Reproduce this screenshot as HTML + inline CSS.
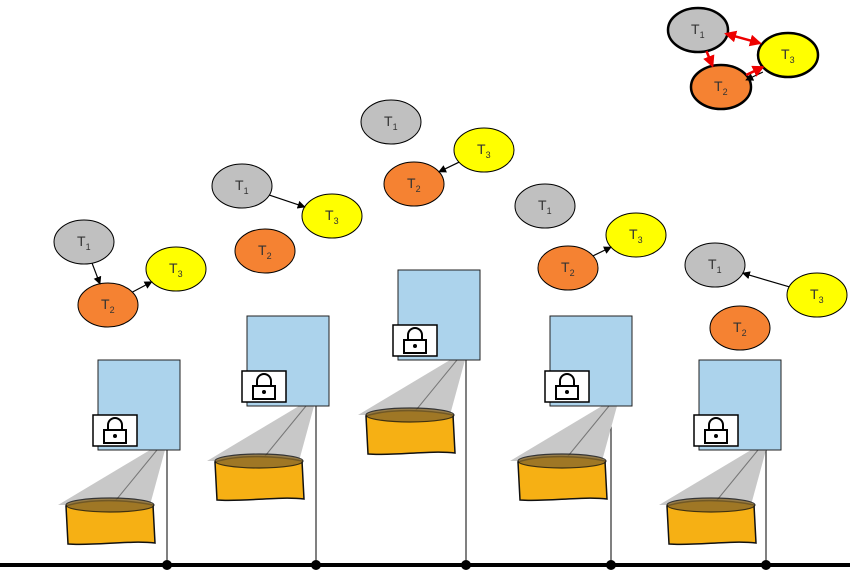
<!DOCTYPE html>
<html><head><meta charset="utf-8">
<style>
html,body{margin:0;padding:0;background:#fff;}
svg{display:block;font-family:"Liberation Sans",sans-serif;}
</style></head>
<body>
<svg width="850" height="574" viewBox="0 0 850 574">
<defs>
<marker id="ab" markerWidth="8" markerHeight="8" refX="7" refY="4" orient="auto" markerUnits="userSpaceOnUse"><path d="M0,0 L8,4 L0,8 Z" fill="#000"/></marker>
<marker id="ar" markerWidth="12" markerHeight="12" refX="10" refY="6" orient="auto" markerUnits="userSpaceOnUse"><path d="M0,0 L12,6 L0,12 Z" fill="#e00"/></marker>
<marker id="ars" markerWidth="12" markerHeight="12" refX="2" refY="6" orient="auto" markerUnits="userSpaceOnUse"><path d="M12,0 L0,6 L12,12 Z" fill="#e00"/></marker>
<g id="unit">
  <path d="M150,450 L165,450 L150,505 L58,505 Z" fill="#c8c8c8"/>
  <line x1="157" y1="450" x2="112" y2="505" stroke="#777" stroke-width="1"/>
  <path d="M66,506 C90,498 130,500 153,505 L155,543 C130,540 95,546 68,544 Z" fill="#f6b014" stroke="#111" stroke-width="1.5"/>
  <ellipse cx="110" cy="505" rx="44" ry="7" fill="#8a6a2a" opacity="0.8" stroke="#111" stroke-width="1.2"/>
  <rect x="98" y="360" width="82" height="90" fill="#acd3ec" stroke="#222" stroke-width="1"/>
  <rect x="93" y="415" width="44" height="31" fill="#fff" stroke="#000" stroke-width="1.5"/>
  <path d="M108,430 v-5 a7,7 0 0 1 14,0 v5" fill="none" stroke="#000" stroke-width="2"/>
  <rect x="104" y="430" width="22" height="13" fill="#fff" stroke="#000" stroke-width="2"/>
  <circle cx="115" cy="436" r="2" fill="#000"/>
</g>
</defs>

<line x1="0" y1="565" x2="850" y2="565" stroke="#000" stroke-width="4"/>

<g>
  <line x1="167" y1="450" x2="167" y2="565" stroke="#000"/>
  <use href="#unit" transform="translate(0,0)"/>
  <circle cx="167" cy="565" r="5" fill="#000"/>
</g>
<g>
  <line x1="316" y1="406" x2="316" y2="565" stroke="#000"/>
  <use href="#unit" transform="translate(149,-44)"/>
  <circle cx="316" cy="565" r="5" fill="#000"/>
</g>
<g>
  <line x1="466" y1="360" x2="466" y2="565" stroke="#000"/>
  <use href="#unit" transform="translate(300,-90)"/>
  <circle cx="466" cy="565" r="5" fill="#000"/>
</g>
<g>
  <line x1="611" y1="406" x2="611" y2="565" stroke="#000"/>
  <use href="#unit" transform="translate(452,-44)"/>
  <circle cx="611" cy="565" r="5" fill="#000"/>
</g>
<g>
  <line x1="766" y1="450" x2="766" y2="565" stroke="#000"/>
  <use href="#unit" transform="translate(601,0)"/>
  <circle cx="766" cy="565" r="5" fill="#000"/>
</g>

<g id="nodes"></g>

<script>
const ns='http://www.w3.org/2000/svg';
const fills={1:'#c0c0c0',2:'#f58232',3:'#ffff00'};
const groups=[
 {n:{1:[84,242],2:[108,305],3:[176,269]},e:[[1,2],[2,3]],sw:1},
 {n:{1:[242,186],2:[265,251],3:[332,216]},e:[[1,3]],sw:1},
 {n:{1:[391,122],2:[414,184],3:[484,150]},e:[[3,2]],sw:1},
 {n:{1:[545,206],2:[568,268],3:[636,235]},e:[[2,3]],sw:1},
 {n:{1:[715,265],2:[740,328],3:[817,295]},e:[[3,1]],sw:1},
 {n:{1:[698,30],2:[721,87],3:[788,55]},e:[[3,2]],sw:2.5,red:[[1,2],[2,3]],both:[[3,1]]}
];
const root=document.getElementById('nodes');
const rx=30,ry=22;
function edge(a,b,col,mk,ms,w){
 const dx=b[0]-a[0],dy=b[1]-a[1],L=Math.hypot(dx,dy);
 const ux=dx/L,uy=dy/L;
 const ta=1/Math.sqrt((ux*ux)/(rx*rx)+(uy*uy)/(ry*ry));
 const l=document.createElementNS(ns,'line');
 
 
 l.setAttribute('x1',a[0]+ux*ta);l.setAttribute('y1',a[1]+uy*ta);
 l.setAttribute('x2',b[0]-ux*ta);l.setAttribute('y2',b[1]-uy*ta);
 l.setAttribute('stroke',col);l.setAttribute('stroke-width',w);
 l.setAttribute('marker-end','url(#'+mk+')');
 if(ms)l.setAttribute('marker-start','url(#'+ms+')');
 root.appendChild(l);
}
groups.forEach(g=>{
 [1,2,3].forEach(k=>{
  const [cx,cy]=g.n[k];
  const e=document.createElementNS(ns,'ellipse');
  
  
  e.setAttribute('cx',cx);e.setAttribute('cy',cy);e.setAttribute('rx',rx);e.setAttribute('ry',ry);
  e.setAttribute('fill',fills[k]);e.setAttribute('stroke','#000');e.setAttribute('stroke-width',g.sw);
  root.appendChild(e);
  const t=document.createElementNS(ns,'text');
  
  
  t.setAttribute('x',cx-7);t.setAttribute('y',cy+4);t.setAttribute('font-size','14');t.setAttribute('fill','#333');
  t.appendChild(document.createTextNode('T'));
  const s=document.createElementNS(ns,'tspan');
  s.setAttribute('font-size','9');s.setAttribute('dy','4');
  s.textContent=String(k);
  t.appendChild(s);
  root.appendChild(t);
 });
 g.e.forEach(([a,b])=>{
  let A=g.n[a],B=g.n[b];
  if(g.red){A=[A[0],A[1]+5];B=[B[0],B[1]+5];}
  edge(A,B,'#000','ab',null,1.2);
 });
 (g.red||[]).forEach(([a,b])=>edge(g.n[a],g.n[b],'#e00','ar',null,2.5));
 (g.both||[]).forEach(([a,b])=>{const A=g.n[a],B=g.n[b];edge([A[0],A[1]-4],[B[0],B[1]-4],'#e00','ar','ars',2.5);});
});
</script>
</svg>
</body></html>
